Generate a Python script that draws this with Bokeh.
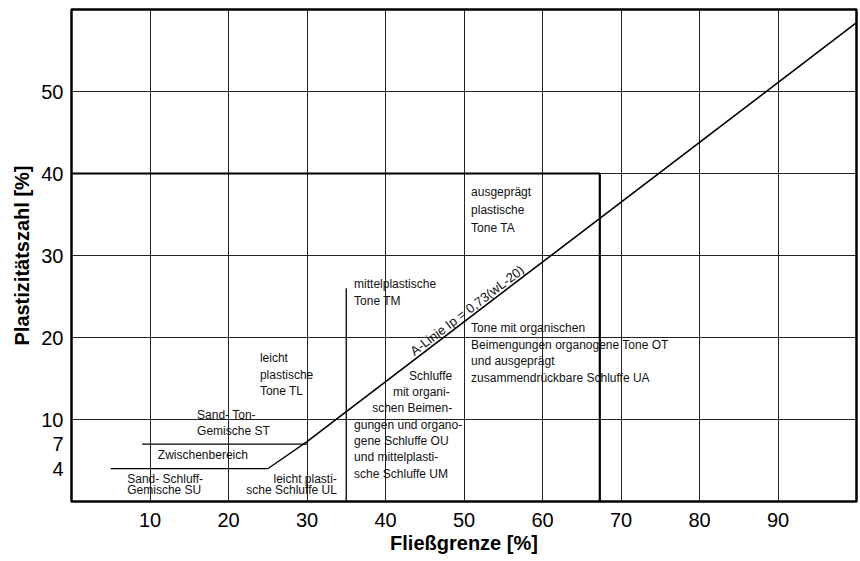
import math
from bokeh.plotting import figure
from bokeh.models import FixedTicker, Range1d
from bokeh.core.properties import value
from bokeh.embed import file_html
from bokeh.resources import INLINE

# ---------------- data ----------------
x_tick_values = [10, 20, 30, 40, 50, 60, 70, 80, 90]
y_tick_values = [4, 7, 10, 20, 30, 40, 50]
y_grid_values = [10, 20, 30, 40, 50]
x_limits = [0, 100]
y_limits = [0, 60]

# A-Linie Ip = 0,73 (wL - 20)
a_line_slope = 0.73
a_line_wl0 = 20
a_line_wl = [30, 100]
a_line_ip = [a_line_slope * (w - a_line_wl0) for w in a_line_wl]

# zone boundaries
su_limit_wl = [5, 25]
su_limit_ip = [4, 4]
st_limit_wl = [9, 30]
st_limit_ip = [7, 7]
transition_wl = [25, 30]
transition_ip = [4, a_line_slope * (30 - a_line_wl0)]
tm_divider_wl = [35, 35]
tm_divider_ip = [0, 26]
ta_box_wl = [0, 67.3, 67.3]
ta_box_ip = [40, 40, 0]

# zone labels: lines, x of each line, Ip of first line, alignment, line spacing (px)
zone_labels = [
    (["ausgeprägt", "plastische", "Tone TA"], [50.9] * 3, 37.75, "left", 18),
    (["Tone mit organischen", "Beimengungen organogene Tone OT",
      "und ausgeprägt", "zusammendrückbare Schluffe UA"], [50.9] * 4, 21.1, "left", 16.5),
    (["mittelplastische", "Tone TM"], [36.0] * 2, 26.5, "left", 16.7),
    (["leicht", "plastische", "Tone TL"], [24.0] * 3, 17.5, "left", 16.5),
    (["Sand- Ton-", "Gemische ST"], [16.0] * 2, 10.6, "left", 16),
    (["Zwischenbereich"], [11.0], 5.66, "left", 0),
    (["Sand- Schluff-", "Gemische SU"], [7.1] * 2, 2.69, "left", 11),
    (["leicht plasti-", "sche Schluffe UL"], [33.8] * 2, 2.69, "right", 11),
    (["Schluffe", "mit organi-", "schen Beimen-", "gungen und organo-",
      "gene Schluffe OU", "und mittelplasti-", "sche Schluffe UM"],
     [43.0, 40.95, 38.3, 36.0, 36.0, 36.0, 36.0], 15.32, "left", 16.3),
]
a_line_label = "A-Linie Ip = 0,73(wL-20)"
a_line_label_wl = 50.4

FONT = "Liberation Sans"
FRAME_W, FRAME_H = 785, 491

p = figure(width=858, height=556,
           x_range=Range1d(*x_limits), y_range=Range1d(*y_limits),
           output_backend="svg", toolbar_location=None,
           min_border_left=71, min_border_right=2, min_border_top=9, min_border_bottom=0)

p.outline_line_color = "black"
p.outline_line_width = 2.5
p.background_fill_color = "white"
p.border_fill_color = "white"

for ax in (p.xaxis, p.yaxis):
    ax.axis_line_color = None
    ax.major_tick_line_color = None
    ax.minor_tick_line_color = None
    ax.major_tick_out = 0
    ax.major_tick_in = 0
    ax.major_label_text_font = FONT
    ax.major_label_text_font_size = "20px"
    ax.major_label_text_color = "black"
    ax.axis_label_text_font = FONT
    ax.axis_label_text_font_size = "20px"
    ax.axis_label_text_font_style = "bold"
    ax.axis_label_text_color = "black"

p.xaxis.ticker = FixedTicker(ticks=x_tick_values)
p.yaxis.ticker = FixedTicker(ticks=y_tick_values)
p.xaxis.major_label_standoff = 11
p.yaxis.major_label_standoff = 8
p.xaxis.axis_label_standoff = 2
p.yaxis.axis_label_standoff = 5
p.xaxis.axis_label = "Fließgrenze [%]"
p.yaxis.axis_label = "Plastizitätszahl [%]"

p.xgrid.ticker = FixedTicker(ticks=x_tick_values)
p.ygrid.ticker = FixedTicker(ticks=y_grid_values)
for g in (p.xgrid, p.ygrid):
    g.grid_line_color = "#222222"
    g.grid_line_width = 1
    g.grid_line_alpha = 1

# boundaries
p.line(a_line_wl, a_line_ip, line_color="black", line_width=1.6)
p.line(transition_wl, transition_ip, line_color="black", line_width=1.3)
p.line(su_limit_wl, su_limit_ip, line_color="black", line_width=1.3)
p.line(st_limit_wl, st_limit_ip, line_color="black", line_width=1.3)
p.line(tm_divider_wl, tm_divider_ip, line_color="black", line_width=1.3)
p.line(ta_box_wl, ta_box_ip, line_color="black", line_width=2.2)

# zone labels
for lines, xs, y0, align, spacing in zone_labels:
    p.text(x=xs, y=[y0] * len(lines), text=lines,
           y_offset=[i * spacing for i in range(len(lines))],
           text_font=value(FONT), text_font_size="12px", text_color="#111111",
           text_align=align, text_baseline="middle")

# A-line label
angle = math.atan(a_line_slope * (FRAME_H / (y_limits[1] - y_limits[0]))
                  / (FRAME_W / (x_limits[1] - x_limits[0])))
p.text(x=[a_line_label_wl], y=[a_line_slope * (a_line_label_wl - a_line_wl0) + 1.1],
       text=[a_line_label], angle=angle,
       text_font=value(FONT), text_font_size="13px", text_color="#111111",
       text_align="center", text_baseline="alphabetic")

open("out.html", "w").write(file_html(p, INLINE))
